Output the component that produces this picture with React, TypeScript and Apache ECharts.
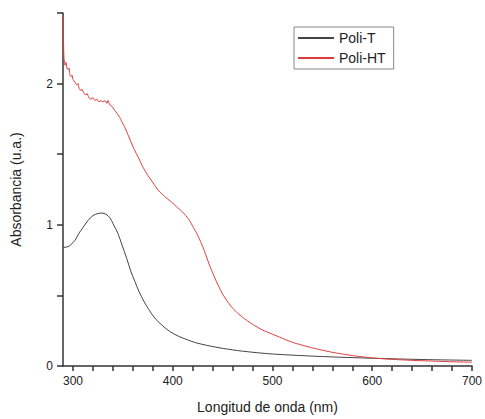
import React, { useEffect, useRef } from "react";
import * as echarts from "echarts";

const seriesNames = ["Poli-T", "Poli-HT"];

const poliTWavelength = [290, 295, 298, 302, 306, 310, 315, 320, 325, 329, 333, 337, 340, 345, 349, 354, 358, 362, 366, 371, 376, 382, 389, 397, 406, 415, 423, 435, 450, 470, 500, 550, 600, 650, 700];
const poliTAbs = [0.84, 0.845, 0.86, 0.89, 0.94, 0.98, 1.03, 1.065, 1.08, 1.083, 1.075, 1.05, 1.01, 0.94, 0.86, 0.76, 0.67, 0.6, 0.53, 0.46, 0.4, 0.34, 0.29, 0.245, 0.21, 0.185, 0.165, 0.145, 0.125, 0.105, 0.085, 0.067, 0.055, 0.046, 0.04];

const poliHTWavelength = [290, 290.5, 291, 292, 293, 294, 295, 296, 297, 298, 299, 300, 302, 304, 305, 306, 308, 309, 311, 313, 314, 316, 318, 320, 322, 324, 326, 328, 330, 332, 334, 335, 337, 339, 341, 343, 345, 347, 349, 352, 355, 358, 361, 366, 370, 375, 380, 386, 392, 399, 405, 410, 416, 420, 424, 428, 432, 436, 440, 445, 450, 455, 460, 465, 470, 480, 490, 500, 520, 540, 560, 580, 600, 620, 640, 660, 680, 700];
const poliHTAbs = [2.48, 2.3, 2.18, 2.13, 2.15, 2.11, 2.1, 2.11, 2.06, 2.05, 2.06, 2.03, 2.01, 1.99, 2.0, 1.97, 1.95, 1.96, 1.93, 1.92, 1.93, 1.9, 1.89, 1.9, 1.88, 1.89, 1.87, 1.88, 1.87, 1.88, 1.86, 1.88, 1.85, 1.84, 1.82, 1.8, 1.78, 1.76, 1.73, 1.69, 1.64, 1.59, 1.54, 1.47, 1.41, 1.35, 1.3, 1.24, 1.2, 1.16, 1.12, 1.09, 1.04, 0.99, 0.94, 0.88, 0.81, 0.73, 0.66, 0.58, 0.51, 0.455, 0.41, 0.375, 0.345, 0.295, 0.255, 0.225, 0.168, 0.128, 0.097, 0.074, 0.057, 0.047, 0.04, 0.035, 0.03, 0.027];

const xMajorTicks = [300, 400, 500, 600, 700];
const xMinorTicks = [320, 340, 360, 380, 420, 440, 460, 480, 520, 540, 560, 580, 620, 640, 660, 680];
const yTicks = [0, 0.5, 1, 1.5, 2, 2.5];
const yLabelValues = [0, 1, 2];

const FONT = "Liberation Sans, Arial, sans-serif";

export default function App() {
  const ref = useRef<HTMLDivElement>(null);
  useEffect(() => {
    if (!ref.current) return;
    const chart = echarts.init(ref.current, undefined, { renderer: "svg" });
    const axisColor = "#333";
    const pair = (xs: number[], ys: number[]) => xs.map((x, i) => [x, ys[i]]);
    const allXTicks = [...xMajorTicks, ...xMinorTicks].sort((a, b) => a - b);
    chart.setOption({
      animation: false,
      backgroundColor: "#fff",
      grid: { left: 63, right: 9, top: 13, bottom: 52 },
      legend: {
        orient: "vertical",
        left: 294,
        top: 27,
        padding: [4, 8, 4, 3],
        itemGap: 6,
        itemWidth: 36,
        itemHeight: 10,
        borderColor: "#888",
        borderWidth: 1,
        itemStyle: { opacity: 0 },
        textStyle: { fontFamily: FONT, fontSize: 14, color: "#222" },
        data: seriesNames,
      },
      xAxis: {
        type: "value",
        min: 290,
        max: 700,
        name: "Longitud de onda (nm)",
        nameLocation: "middle",
        nameGap: 34,
        nameTextStyle: { fontFamily: FONT, fontSize: 14, color: "#222" },
        axisLine: { show: true, onZero: false, lineStyle: { color: axisColor, width: 1.5 } },
        axisTick: { show: true, customValues: allXTicks, length: 5, lineStyle: { color: axisColor, width: 1.5 } },
        axisLabel: { show: true, customValues: xMajorTicks, fontFamily: FONT, fontSize: 12, color: "#222", margin: 9 },
        splitLine: { show: false },
      },
      yAxis: {
        type: "value",
        min: 0,
        max: 2.5,
        interval: 0.5,
        name: "Absorbancia (u.a.)",
        nameLocation: "middle",
        nameGap: 40,
        nameTextStyle: { fontFamily: FONT, fontSize: 14, color: "#222" },
        axisLine: { show: true, onZero: false, lineStyle: { color: axisColor, width: 1.5 } },
        axisTick: { show: true, customValues: yTicks, length: 6, lineStyle: { color: axisColor, width: 1.5 } },
        axisLabel: { show: true, customValues: yLabelValues, fontFamily: FONT, fontSize: 12, color: "#222", margin: 10 },
        splitLine: { show: false },
      },
      series: [
        {
          name: seriesNames[0],
          type: "line",
          data: pair(poliTWavelength, poliTAbs),
          symbol: "none",
          smooth: 0.3,
          lineStyle: { color: "#444", width: 1 },
          itemStyle: { color: "#444" },
        },
        {
          name: seriesNames[1],
          type: "line",
          data: pair(poliHTWavelength, poliHTAbs),
          symbol: "none",
          smooth: 0.2,
          lineStyle: { color: "#e03a3a", width: 1 },
          itemStyle: { color: "#e03a3a" },
        },
      ],
    });
    return () => chart.dispose();
  }, []);
  return <div ref={ref} style={{ position: "absolute", left: 0, top: 0, width: 485, height: 419 }} />;
}
